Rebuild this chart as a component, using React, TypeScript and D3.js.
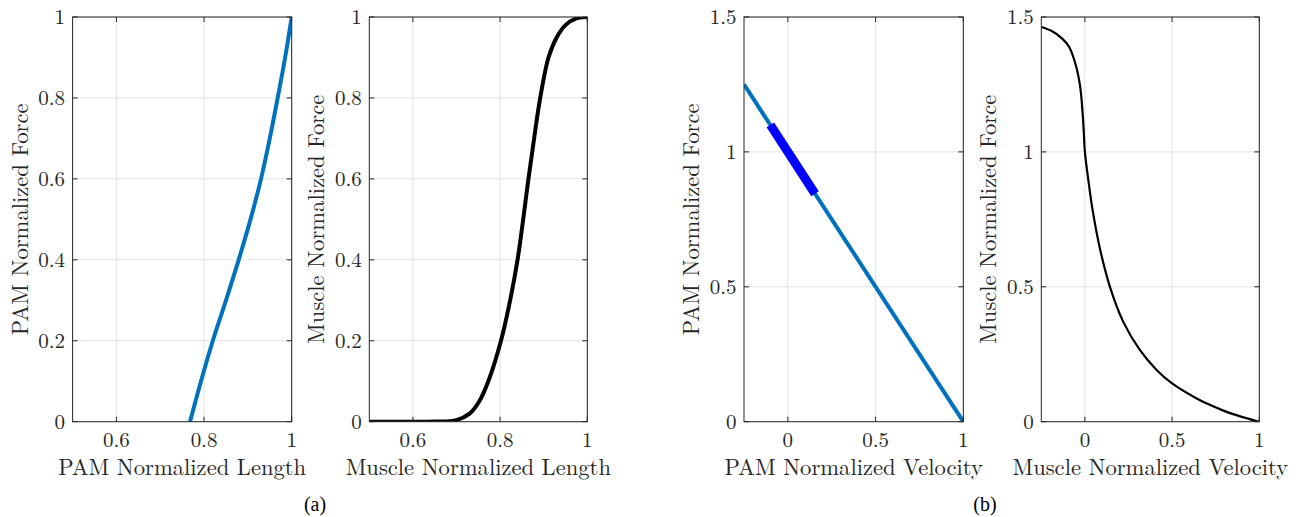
import React from "react";
import * as d3 from "d3";

// PAM force-length
const pamLength = [0.768, 0.793, 0.82, 0.85, 0.879, 0.906, 0.93, 0.95, 0.968, 0.985, 1.0];
const pamLengthForce = [0, 0.1, 0.2, 0.3, 0.4, 0.5, 0.6, 0.7, 0.8, 0.9, 1.0];

// muscle force-length
const musLength = [0.5, 0.6, 0.65, 0.7, 0.73, 0.752, 0.773, 0.802, 0.823, 0.84, 0.853, 0.865, 0.878, 0.892, 0.911, 0.93, 0.95, 0.976, 1.0];
const musLengthForce = [0, 0, 0.0005, 0.004, 0.02, 0.05, 0.1, 0.2, 0.3, 0.4, 0.5, 0.6, 0.7, 0.8, 0.9, 0.95, 0.98, 0.997, 1.0];

// PAM force-velocity (straight line) and highlighted operating range
const pamVel = [-0.25, 1];
const pamVelForce = [1.25, 0];
const pamVelHi = [-0.1, 0.155];
const pamVelHiForce = [1.1, 0.845];

// muscle force-velocity
const musVel = [-0.25, -0.19, -0.13, -0.09, -0.052, -0.027, -0.013, -0.006, 0, 0.025, 0.044, 0.086, 0.145, 0.22, 0.316, 0.411, 0.5, 0.641, 0.7, 0.794, 0.9, 1];
const musVelForce = [1.463, 1.448, 1.42, 1.389, 1.321, 1.241, 1.143, 1.07, 1.0, 0.87, 0.785, 0.642, 0.497, 0.37, 0.265, 0.192, 0.142, 0.086, 0.067, 0.041, 0.018, 0];

const lengthTicksX = [0.6, 0.8, 1];
const lengthTicksY = [0, 0.2, 0.4, 0.6, 0.8, 1];
const velTicksX = [0, 0.5, 1];
const velTicksY = [0, 0.5, 1, 1.5];

const FONT = "'Latin Modern Roman'";
const CAPTION_FONT = "'Liberation Serif'";
const AXIS = "#262626";
const GRID = "#e3e3e3";
const TOP = 17;
const BOTTOM = 421.7;
const TICK = 5;

type Series = { xs: number[]; ys: number[]; color: string; width: number; smooth?: boolean };

function zip(xs: number[], ys: number[]): [number, number][] {
  return xs.map((x, i) => [x, ys[i]]);
}

function Panel({
  left, right, xDomain, yDomain, xTicks, yTicks, xLabel, yLabel, series,
}: {
  left: number; right: number; xDomain: [number, number]; yDomain: [number, number];
  xTicks: number[]; yTicks: number[]; xLabel: string; yLabel: string; series: Series[];
}) {
  const x = d3.scaleLinear().domain(xDomain).range([left, right]);
  const y = d3.scaleLinear().domain(yDomain).range([BOTTOM, TOP]);
  const fmt = d3.format("~g");
  const id = `clip${Math.round(left)}`;
  const txt = { fontFamily: FONT };

  return (
    <g>
      <defs>
        <clipPath id={id}>
          <rect x={left} y={TOP} width={right - left} height={BOTTOM - TOP} />
        </clipPath>
      </defs>
      <rect x={left} y={TOP} width={right - left} height={BOTTOM - TOP} fill="#fff" />
      {/* grid */}
      {xTicks.map((t) => (
        <line key={"gx" + t} x1={x(t)} x2={x(t)} y1={TOP} y2={BOTTOM} stroke={GRID} strokeWidth={1} />
      ))}
      {yTicks.map((t) => (
        <line key={"gy" + t} x1={left} x2={right} y1={y(t)} y2={y(t)} stroke={GRID} strokeWidth={1} />
      ))}
      {/* data */}
      <g clipPath={`url(#${id})`}>
        {series.map((s, i) => {
          const line = d3
            .line<[number, number]>()
            .x((d) => x(d[0]))
            .y((d) => y(d[1]))
            .curve(s.smooth ? d3.curveCatmullRom.alpha(0.5) : d3.curveLinear);
          return (
            <path
              key={i}
              d={line(zip(s.xs, s.ys)) || ""}
              fill="none"
              stroke={s.color}
              strokeWidth={s.width}
              strokeLinecap="butt"
              strokeLinejoin="round"
            />
          );
        })}
      </g>
      {/* box */}
      <rect x={left} y={TOP} width={right - left} height={BOTTOM - TOP} fill="none" stroke={AXIS} strokeWidth={1} />
      {/* ticks (inside, all sides) */}
      {xTicks.map((t) => (
        <g key={"tx" + t} stroke={AXIS} strokeWidth={1}>
          <line x1={x(t)} x2={x(t)} y1={BOTTOM} y2={BOTTOM - TICK} />
          <line x1={x(t)} x2={x(t)} y1={TOP} y2={TOP + TICK} />
        </g>
      ))}
      {yTicks.map((t) => (
        <g key={"ty" + t} stroke={AXIS} strokeWidth={1}>
          <line x1={left} x2={left + TICK} y1={y(t)} y2={y(t)} />
          <line x1={right} x2={right - TICK} y1={y(t)} y2={y(t)} />
        </g>
      ))}
      {/* tick labels */}
      {xTicks.map((t) => (
        <text key={"lx" + t} x={x(t)} y={447} textAnchor="middle" fontSize={21} fill={AXIS} style={txt}>
          {fmt(t)}
        </text>
      ))}
      {yTicks.map((t) => (
        <text key={"ly" + t} x={left - 7.5} y={y(t)} dy="0.33em" textAnchor="end" fontSize={21} fill={AXIS} style={txt}>
          {fmt(t)}
        </text>
      ))}
      {/* axis labels */}
      <text x={(left + right) / 2} y={475} textAnchor="middle" fontSize={22.6} fill={AXIS} style={txt}>
        {xLabel}
      </text>
      <text
        transform={`translate(${left - 45},${(TOP + BOTTOM) / 2}) rotate(-90)`}
        textAnchor="middle"
        fontSize={22.6}
        fill={AXIS}
        style={txt}
      >
        {yLabel}
      </text>
    </g>
  );
}

export default function App() {
  return (
    <div style={{ position: "absolute", left: 0, top: 0 }}>
      <svg width={1302} height={517} style={{ display: "block", background: "#fff" }}>
        <Panel
          left={72.6}
          right={291.7}
          xDomain={[0.5, 1]}
          yDomain={[0, 1]}
          xTicks={lengthTicksX}
          yTicks={lengthTicksY}
          xLabel="PAM Normalized Length"
          yLabel="PAM Normalized Force"
          series={[{ xs: pamLength, ys: pamLengthForce, color: "#0072BD", width: 4, smooth: true }]}
        />
        <Panel
          left={369.3}
          right={587.3}
          xDomain={[0.5, 1]}
          yDomain={[0, 1]}
          xTicks={lengthTicksX}
          yTicks={lengthTicksY}
          xLabel="Muscle Normalized Length"
          yLabel="Muscle Normalized Force"
          series={[{ xs: musLength, ys: musLengthForce, color: "#000", width: 4, smooth: true }]}
        />
        <Panel
          left={744}
          right={963.3}
          xDomain={[-0.25, 1]}
          yDomain={[0, 1.5]}
          xTicks={velTicksX}
          yTicks={velTicksY}
          xLabel="PAM Normalized Velocity"
          yLabel="PAM Normalized Force"
          series={[
            { xs: pamVel, ys: pamVelForce, color: "#0072BD", width: 4 },
            { xs: pamVelHi, ys: pamVelHiForce, color: "#0000FF", width: 9 },
          ]}
        />
        <Panel
          left={1041.3}
          right={1259.3}
          xDomain={[-0.25, 1]}
          yDomain={[0, 1.5]}
          xTicks={velTicksX}
          yTicks={velTicksY}
          xLabel="Muscle Normalized Velocity"
          yLabel="Muscle Normalized Force"
          series={[{ xs: musVel, ys: musVelForce, color: "#000", width: 2.2, smooth: true }]}
        />
        <text x={315} y={511} textAnchor="middle" fontSize={20} fill="#000" style={{ fontFamily: CAPTION_FONT }}>
          (a)
        </text>
        <text x={985} y={511} textAnchor="middle" fontSize={20} fill="#000" style={{ fontFamily: CAPTION_FONT }}>
          (b)
        </text>
      </svg>
    </div>
  );
}
